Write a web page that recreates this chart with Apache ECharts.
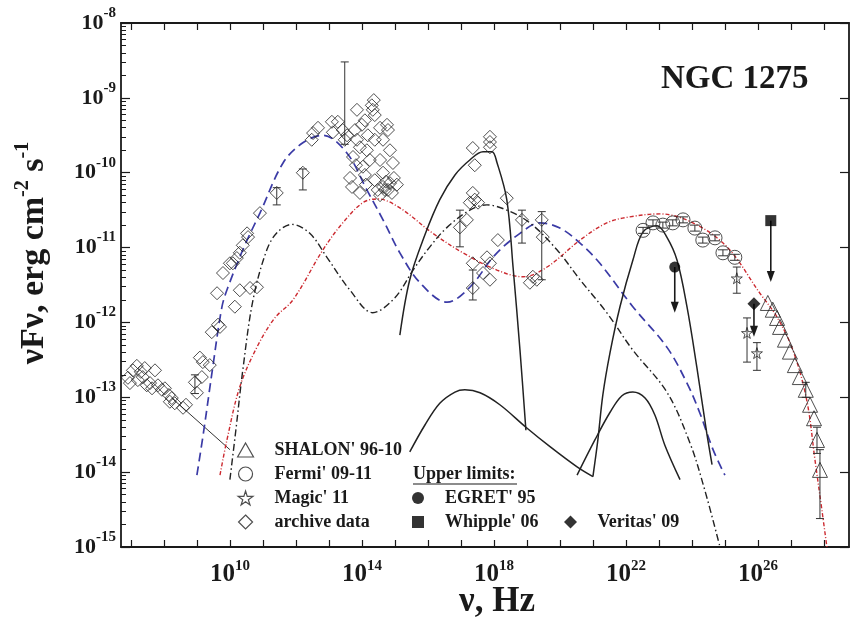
<!DOCTYPE html>
<html><head><meta charset="utf-8">
<script src="https://cdn.jsdelivr.net/npm/echarts@6/dist/echarts.min.js"></script>
<style>html,body{margin:0;padding:0;background:#fff}#c{width:850px;height:619px}</style>
</head><body><div id="c"></div>
<script>
// ---- values, as [log10(nu/Hz), log10(nuFnu / erg cm^-2 s^-1)] ----
const xTickExp = [7,8,9,10,11,12,13,14,15,16,17,18,19,20,21,22,23,24,25,26,27,28];
const xLabelExp = [10,14,18,22,26];
const yLabelExp = [-15,-14,-13,-12,-11,-10,-9,-8];

const archiveData = [
 [6.97,-12.81],[7.06,-12.64],[7.18,-12.58],[7.30,-12.66],[7.42,-12.61],[7.21,-12.77],[7.36,-12.73],[7.48,-12.84],[7.58,-12.81],[7.73,-12.64],[7.64,-12.88],[7.82,-12.84],[7.94,-12.90],[8.03,-12.88],[8.15,-12.97],[8.24,-13.01],[8.33,-13.08],[8.58,-13.14],[8.67,-13.10],[8.18,-13.06],[6.91,-12.74],
 [8.94,-12.80],[9.00,-12.94],[9.09,-12.47],[9.15,-12.73],[9.18,-12.53],[9.39,-12.57],[9.45,-12.13],[9.64,-12.03],[9.70,-12.06],[10.15,-11.79],[9.61,-11.61],[9.79,-11.34],[10.00,-11.21],[10.09,-11.21],[10.21,-11.14],[10.30,-11.07],[10.39,-10.97],[10.52,-10.81],[10.55,-10.86],[10.30,-11.57],[10.61,-11.54],[10.82,-11.53],[10.91,-10.54],[11.42,-10.27],[12.21,-10.00],[12.48,-9.56],[12.52,-9.47],[12.67,-9.40],[13.09,-9.32],[13.12,-9.46],[13.27,-9.32],[13.42,-9.43],[13.55,-9.50],[13.48,-9.56],
 [14.30,-9.10],[14.33,-9.16],[14.39,-9.23],[14.36,-9.03],[14.76,-9.36],[14.79,-9.43],[14.64,-9.56],[13.94,-9.66],[13.73,-9.79],[14.15,-9.70],[14.24,-9.83],[14.55,-9.83],[14.85,-9.70],[14.94,-9.87],[14.64,-10.00],[14.03,-9.92],[13.70,-10.19],[13.94,-10.27],[14.85,-10.14],[14.64,-10.19],[15.06,-10.16],[14.09,-10.03],[14.39,-10.10],[14.48,-10.23],[14.70,-10.23],[13.64,-10.07],[13.85,-9.56],[14.00,-9.36],[14.09,-9.30],[14.18,-9.50],[13.82,-9.90],
 [14.55,-10.30],[14.79,-10.23],[14.91,-10.27],[14.73,-10.12],[14.97,-10.07],[13.85,-9.16],[14.12,-10.16],[14.39,-9.56],[14.55,-9.40],[13.79,-9.43],
 [17.36,-9.67],[17.42,-9.90],[17.88,-9.52],[17.88,-9.59],[17.88,-9.66],[17.36,-10.27],[17.42,-10.36],[17.52,-10.40],[17.27,-10.40],[17.18,-10.63],[16.97,-10.73],[17.36,-11.21],[17.36,-11.54],[17.79,-11.13],[17.88,-11.21],[17.88,-11.43],[17.67,-11.34],[18.12,-10.90],[18.39,-10.34],[18.85,-10.63],[19.09,-11.47],[19.18,-11.39],[19.30,-11.43],[19.45,-10.63],[19.48,-10.86]
];
const archiveErr = [ // [x, low, high]
 [13.48,-9.62,-8.52],[11.42,-10.43,-10.20],[12.21,-10.23,-9.95],[16.97,-10.99,-10.50],[17.36,-11.70,-11.30],[18.85,-10.94,-10.50],[19.45,-11.43,-10.52],[8.94,-12.95,-12.70]
];
const fermiData = [[22.52,-10.77],[22.82,-10.67],[23.12,-10.70],[23.42,-10.67],[23.73,-10.63],[24.09,-10.74],[24.33,-10.90],[24.70,-10.87],[24.94,-11.07],[25.30,-11.13]];
const fermiErrHalf = [0.04,0.04,0.04,0.04,0.04,0.04,0.04,0.04,0.04,0.04];
const magicData = [[25.36,-11.41],[25.67,-12.14],[25.97,-12.41]];
const magicErr = [[25.36,-11.61,-11.26],[25.67,-12.53,-11.94],[25.97,-12.64,-12.27]];
const shalonData = [[26.30,-11.74],[26.45,-11.83],[26.58,-11.94],[26.67,-12.06],[26.82,-12.23],[26.97,-12.39],[27.12,-12.57],[27.27,-12.73],[27.45,-12.90],[27.58,-13.10],[27.70,-13.28],[27.79,-13.57],[27.88,-13.97]];
const shalonErr = [[27.79,-13.75,-13.40],[27.88,-14.62,-13.70],[27.45,-13.00,-12.80]];
const egretUL = [[23.48,-11.26,-11.87]];     // [x, limit, arrow tip]
const whippleUL = [[26.39,-10.64,-11.46]];
const veritasUL = [[25.88,-11.75,-12.19]];

const blueModel = [[9.00,-14.04],[9.21,-13.44],[9.48,-12.60],[9.76,-11.79],[9.94,-11.53],[10.45,-10.97],[10.91,-10.54],[11.61,-9.87],[12.21,-9.60],[12.82,-9.50],[13.55,-9.74],[14.15,-10.23],[14.64,-10.63],[15.15,-11.07],[15.76,-11.47],[16.58,-11.73],[17.27,-11.53],[18.03,-11.10],[18.79,-10.81],[19.39,-10.67],[20.00,-10.74],[20.61,-10.94],[21.21,-11.21],[22.21,-11.79],[23.24,-12.33],[23.85,-12.81],[24.24,-13.21],[24.64,-13.70],[25.00,-14.04]];
const redModel = [[9.70,-14.04],[9.91,-13.57],[10.30,-12.86],[10.82,-12.33],[11.36,-11.94],[11.91,-11.70],[12.82,-11.03],[13.42,-10.67],[14.03,-10.40],[14.48,-10.35],[15.15,-10.47],[16.15,-10.81],[17.06,-11.07],[18.09,-11.30],[18.88,-11.39],[19.61,-11.26],[20.61,-10.90],[21.42,-10.67],[22.12,-10.59],[23.03,-10.55],[24.03,-10.67],[25.06,-10.99],[26.06,-11.61],[26.58,-11.93],[27.06,-12.37],[27.48,-13.04],[27.73,-13.84],[27.94,-14.51],[28.09,-15.00]];
const dashDotModel = [[10.00,-14.10],[10.18,-13.44],[10.39,-12.64],[10.70,-11.70],[11.12,-11.03],[11.45,-10.79],[11.88,-10.69],[12.42,-10.81],[12.94,-11.13],[13.64,-11.57],[14.33,-11.87],[15.00,-11.67],[15.55,-11.30],[16.06,-10.99],[16.58,-10.73],[17.27,-10.50],[17.79,-10.43],[18.39,-10.50],[19.09,-10.67],[19.91,-11.03],[20.61,-11.43],[21.42,-11.87],[22.21,-12.37],[23.24,-12.93],[23.94,-13.61],[24.39,-14.24],[24.85,-15.00]];
const solidPeak1 = [[15.15,-12.17],[15.45,-11.43],[15.91,-10.83],[16.36,-10.36],[16.82,-10.03],[17.27,-9.83],[17.67,-9.72],[17.94,-9.72],[18.09,-9.86],[18.39,-10.36],[18.58,-11.26],[18.79,-12.37],[18.97,-13.44]];
const solidHump1 = [[15.45,-13.73],[15.91,-13.37],[16.36,-13.08],[16.82,-12.93],[17.12,-12.90],[17.58,-12.94],[18.18,-13.10],[18.97,-13.40],[19.70,-13.66],[20.52,-13.93],[21.00,-14.06]];
const solidHump2 = [[20.52,-14.04],[21.06,-13.57],[21.52,-13.20],[21.88,-12.98],[22.21,-12.93],[22.58,-13.01],[22.88,-13.24],[23.18,-13.64],[23.64,-14.10]];
const solidPeak2 = [[21.00,-14.06],[21.15,-13.57],[21.30,-12.97],[21.52,-12.40],[21.82,-11.79],[22.21,-11.17],[22.52,-10.79],[22.94,-10.71],[23.24,-10.86],[23.55,-11.17],[23.85,-11.79],[24.15,-12.60],[24.45,-13.48],[24.61,-13.90]];
const radioPowerLaw = [[8.24,-13.01],[10.00,-13.70]];

// ---- build ----
const P = a => a.map(p => [Math.pow(10,p[0]), Math.pow(10,p[1])]);
const P3 = a => a.map(p => [Math.pow(10,p[0]), Math.pow(10,p[1]), Math.pow(10,p[2])]);
const FONT = 'Liberation Serif';
const INK = '#1a1a1a';
const SYM = {
  tri: 'path://M50,0 L100,88 L0,88 Z',
  dia: 'path://M50,0 L100,50 L50,100 L0,50 Z',
  sq: 'path://M0,0 L100,0 L100,100 L0,100 Z',
  star: 'path://M50,0 L61,35 L98,35 L68,57 L79,91 L50,70 L21,91 L32,57 L2,35 L39,35 Z'
};
const yMinor = [];
for (let e = -15; e < -8; e++) for (let k = 2; k <= 9; k++) yMinor.push(k * Math.pow(10, e));

const supFmt = v => '{b|10}{s|' + Math.round(Math.log10(v)) + '}';

function errSeries(name, data, cap) {
  return {
    type: 'custom', name: name, data: P3(data), encode: {x: 0, y: [1, 2]}, z: 3, silent: true,
    renderItem: (params, api) => {
      const x = api.value(0);
      const a = api.coord([x, api.value(1)]), b = api.coord([x, api.value(2)]);
      return {type: 'group', children: [
        {type: 'line', shape: {x1: a[0], y1: a[1], x2: b[0], y2: b[1]}, style: {stroke: '#333', lineWidth: 1}},
        {type: 'line', shape: {x1: a[0]-cap, y1: a[1], x2: a[0]+cap, y2: a[1]}, style: {stroke: '#333', lineWidth: 1}},
        {type: 'line', shape: {x1: b[0]-cap, y1: b[1], x2: b[0]+cap, y2: b[1]}, style: {stroke: '#333', lineWidth: 1}}
      ]};
    }
  };
}
function arrowSeries(data) {
  return {
    type: 'custom', data: P3(data), encode: {x: 0, y: [1, 2]}, z: 4, silent: true,
    renderItem: (params, api) => {
      const x = api.value(0);
      const a = api.coord([x, api.value(1)]), b = api.coord([x, api.value(2)]);
      return {type: 'group', children: [
        {type: 'line', shape: {x1: a[0], y1: a[1], x2: b[0], y2: b[1]-6}, style: {stroke: INK, lineWidth: 1.6}},
        {type: 'polygon', shape: {points: [[b[0]-4, b[1]-11], [b[0]+4, b[1]-11], [b[0], b[1]]]}, style: {fill: INK}}
      ]};
    }
  };
}
function polySeries(data, color, width) {
  return {
    type: 'custom', data: P(data), encode: {x: 0, y: 1}, z: 2, silent: true,
    renderItem: (params, api) => {
      if (params.dataIndex !== 0) return null;
      const pts = data.map(p => api.coord([Math.pow(10, p[0]), Math.pow(10, p[1])]));
      return {type: 'polyline', shape: {points: pts}, style: {stroke: color, lineWidth: width, fill: null}};
    }
  };
}
function lineSeries(name, data, color, type, width) {
  return {type: 'line', name: name, data: P(data), smooth: 0.35, showSymbol: false, symbol: 'none', z: 2, silent: true,
    lineStyle: {color: color, width: width, type: type}};
}
const fermiErr = fermiData.map((p, i) => [p[0], p[1]-fermiErrHalf[i], p[1]+fermiErrHalf[i]]);

const openStyle = {color: 'rgba(255,255,255,0)', borderColor: '#222', borderWidth: 1};
const legendText = {fontFamily: FONT, fontWeight: 'bold', fontSize: 18, color: INK};

const option = {
  animation: false,
  backgroundColor: '#fff',
  title: {text: 'NGC 1275', left: 656, top: 58, textStyle: {fontFamily: FONT, fontWeight: 'bold', fontSize: 33, color: INK}},
  grid: {left: 121, right: 1, top: 23, bottom: 72},
  legend: [
    {data: ["SHALON' 96-10", "Fermi' 09-11", "Magic' 11", 'archive data'], orient: 'vertical', left: 232, top: 436,
     itemWidth: 48, itemHeight: 14, itemGap: 6, selectedMode: false, textStyle: legendText, itemStyle: {borderWidth: 1.2}},
    {data: ["EGRET' 95", "Whipple' 06"], orient: 'vertical', left: 407, top: 484,
     itemWidth: 44, itemHeight: 12, itemGap: 6, selectedMode: false, textStyle: legendText},
    {data: ["Veritas' 09"], orient: 'vertical', left: 559, top: 508,
     itemWidth: 44, itemHeight: 13, itemGap: 6, selectedMode: false, textStyle: legendText}
  ],
  xAxis: [
    {type: 'log', position: 'bottom', min: Math.pow(10, 6.7), max: Math.pow(10, 28.76),
     axisLine: {show: true, lineStyle: {color: INK, width: 1.8}},
     axisTick: {show: true, inside: true, length: 7, lineStyle: {color: INK, width: 1.2}, customValues: xTickExp.map(e => Math.pow(10, e))},
     axisLabel: {show: true, margin: 12, customValues: xLabelExp.map(e => Math.pow(10, e)), formatter: supFmt,
       rich: {b: {fontFamily: FONT, fontWeight: 'bold', fontSize: 25, lineHeight: 31, color: INK},
              s: {fontFamily: FONT, fontWeight: 'bold', fontSize: 15, lineHeight: 15, verticalAlign: 'top', color: INK}}},
     splitLine: {show: false}, minorTick: {show: false}},
    {type: 'log', position: 'top', min: Math.pow(10, 6.7), max: Math.pow(10, 28.76),
     axisLine: {show: true, lineStyle: {color: INK, width: 1.8}},
     axisTick: {show: true, inside: true, length: 7, lineStyle: {color: INK, width: 1.2}, customValues: xTickExp.map(e => Math.pow(10, e))},
     axisLabel: {show: false}, splitLine: {show: false}}
  ],
  yAxis: [
    {type: 'log', position: 'left', min: 1e-15, max: 1e-8,
     axisLine: {show: true, lineStyle: {color: INK, width: 1.8}},
     axisTick: {show: true, inside: true, length: 9, lineStyle: {color: INK, width: 1.2}, customValues: yLabelExp.map(e => Math.pow(10, e))},
     axisLabel: {show: true, margin: 5, customValues: yLabelExp.map(e => Math.pow(10, e)), formatter: supFmt,
       rich: {b: {fontFamily: FONT, fontWeight: 'bold', fontSize: 22, lineHeight: 35, color: INK},
              s: {fontFamily: FONT, fontWeight: 'bold', fontSize: 15, lineHeight: 15, verticalAlign: 'top', color: INK}}},
     splitLine: {show: false}},
    {type: 'log', position: 'left', min: 1e-15, max: 1e-8,
     axisLine: {show: false},
     axisTick: {show: true, inside: true, length: 5, lineStyle: {color: INK, width: 1}, customValues: yMinor},
     axisLabel: {show: false}, splitLine: {show: false}},
    {type: 'log', position: 'right', min: 1e-15, max: 1e-8,
     axisLine: {show: true, lineStyle: {color: INK, width: 1.8}},
     axisTick: {show: true, inside: true, length: 9, lineStyle: {color: INK, width: 1.2}, customValues: yLabelExp.map(e => Math.pow(10, e))},
     axisLabel: {show: false}, splitLine: {show: false}}
  ],
  graphic: [
    {type: 'text', x: 34, y: 253, rotation: Math.PI / 2, style: {
      text: '{m|νFν, erg cm}{s|-2}{m| s}{s|-1}', align: 'center', verticalAlign: 'middle', fill: INK,
      rich: {m: {fontFamily: FONT, fontWeight: 'bold', fontSize: 34, lineHeight: 42, fill: INK},
             s: {fontFamily: FONT, fontWeight: 'bold', fontSize: 20, lineHeight: 20, verticalAlign: 'top', fill: INK}}}},
    {type: 'text', x: 497, y: 602, style: {text: 'ν, Hz', align: 'center', verticalAlign: 'middle', fill: INK,
      font: 'bold 35px "Liberation Serif"'}},
    {type: 'text', x: 413, y: 474, style: {text: 'Upper limits:', align: 'left', verticalAlign: 'middle', fill: INK,
      font: 'bold 18px "Liberation Serif"'}},
    {type: 'line', shape: {x1: 413, y1: 484, x2: 517, y2: 484}, style: {stroke: INK, lineWidth: 1.2}}
  ],
  series: [
    lineSeries('sync', blueModel, '#3b3ba6', [9, 5], 1.7),
    lineSeries('ic', redModel, '#cc2a30', [4, 2, 1, 2], 1.4),
    lineSeries('dd', dashDotModel, '#222', [7, 3, 1.5, 3], 1.4),
    lineSeries('s1', solidPeak1, '#222', 'solid', 1.5),
    lineSeries('s2', solidHump1, '#222', 'solid', 1.5),
    lineSeries('s3', solidHump2, '#222', 'solid', 1.5),
    lineSeries('s4', solidPeak2, '#222', 'solid', 1.5),
    polySeries(radioPowerLaw, '#333', 1),
    errSeries('ae', archiveErr, 4),
    errSeries('fe', fermiErr, 5),
    errSeries('me', magicErr, 4),
    errSeries('se', shalonErr, 4),
    arrowSeries(egretUL), arrowSeries(whippleUL), arrowSeries(veritasUL),
    {type: 'scatter', name: 'archive data', data: P(archiveData), symbol: SYM.dia, symbolSize: 13, itemStyle: openStyle, z: 5, silent: true},
    {type: 'scatter', name: "Fermi' 09-11", data: P(fermiData), symbol: 'circle', symbolSize: 14, itemStyle: openStyle, z: 5, silent: true},
    {type: 'scatter', name: "Magic' 11", data: P(magicData), symbol: SYM.star, symbolSize: 11, itemStyle: openStyle, z: 5, silent: true},
    {type: 'scatter', name: "SHALON' 96-10", data: P(shalonData), symbol: SYM.tri, symbolSize: 15, itemStyle: openStyle, z: 5, silent: true},
    {type: 'scatter', name: "EGRET' 95", data: P(egretUL.map(p => [p[0], p[1]])), symbol: 'circle', symbolSize: 11, itemStyle: {color: '#000'}, z: 6, silent: true},
    {type: 'scatter', name: "Whipple' 06", data: P(whippleUL.map(p => [p[0], p[1]])), symbol: SYM.sq, symbolSize: 11, itemStyle: {color: '#000'}, z: 6, silent: true},
    {type: 'scatter', name: "Veritas' 09", data: P(veritasUL.map(p => [p[0], p[1]])), symbol: SYM.dia, symbolSize: 13, itemStyle: {color: '#000'}, z: 6, silent: true}
  ]
};
const chart = echarts.init(document.getElementById('c'), null, {renderer: 'canvas'});
chart.setOption(option);
</script>
</body></html>
